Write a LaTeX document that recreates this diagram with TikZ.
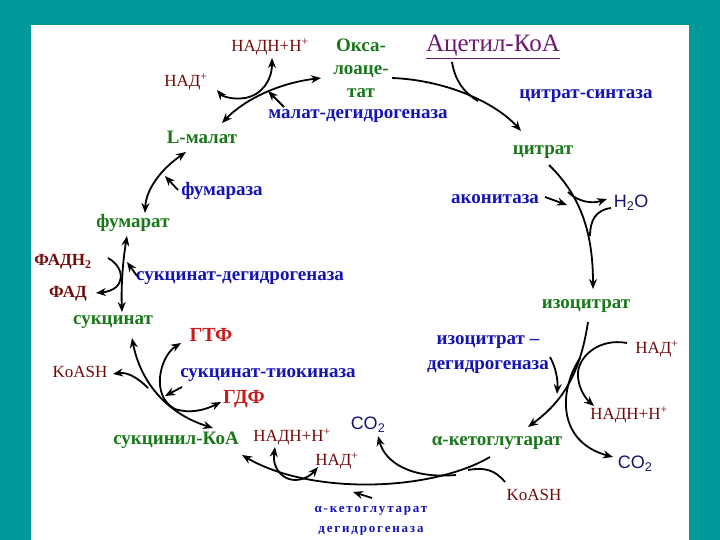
\documentclass[tikz,border=0pt]{standalone}
\usepackage{fontspec}
\setmainfont{Liberation Serif}
\newfontfamily\gasfont{Liberation Sans}
\newfontfamily\spacedfont[LetterSpace=14]{Liberation Serif}
\usetikzlibrary{arrows.meta}
\definecolor{frameteal}{RGB}{0,152,152}
\definecolor{subgreen}{RGB}{25,120,25}
\definecolor{enzblue}{RGB}{20,20,180}
\definecolor{cofred}{RGB}{115,10,10}
\definecolor{ntpred}{RGB}{205,25,25}
\definecolor{acpurple}{RGB}{110,25,110}
\definecolor{gasnavy}{RGB}{20,20,110}

\begin{document}
\begin{tikzpicture}[x=1pt, y=-1pt,
  subst/.style={inner sep=0pt, text=subgreen, font=\bfseries\fontsize{19}{23}\selectfont},
  enzyme/.style={inner sep=0pt, text=enzblue, font=\bfseries\fontsize{19}{25}\selectfont},
  cofac/.style={inner sep=0pt, text=cofred, font=\fontsize{17}{19}\selectfont},
  ntp/.style={inner sep=0pt, text=ntpred, font=\bfseries\fontsize{20}{22}\selectfont},
  gas/.style={inner sep=0pt, text=gasnavy, font=\gasfont\fontsize{18}{20}\selectfont},
  rxn/.style={line width=1.8pt, -{Stealth[length=10pt,width=8pt]}},
  rxnboth/.style={line width=1.8pt, {Stealth[length=10pt,width=8pt]}-{Stealth[length=10pt,width=8pt]}},
  side/.style={line width=1.8pt}]

  % рамка
  \useasboundingbox (0,0) rectangle (720,540);
  \fill[frameteal] (0,0) rectangle (720,540);
  \fill[white] (31,25) rectangle (689,540);

  % вещества цикла
  \node[subst, align=center] (oxa) at (361,68) {Окса-\\лоаце-\\тат};
  \node[subst] (cit) at (543,152) {цитрат};
  \node[subst] (icit) at (586,306) {изоцитрат};
  \node[subst] (akg) at (497,443) {α-кетоглутарат};
  \node[subst] (sca) at (176,440) {сукцинил-КоА};
  \node[subst] (suc) at (113,322) {сукцинат};
  \node[subst] (fma) at (133,223) {фумарат};
  \node[subst] (mal) at (202,137) {L-малат};
  \node[inner sep=0pt, text=acpurple, font=\fontsize{25}{27}\selectfont] (acoa) at (493,47) {\underline{Ацетил-КоА}};

  % ферменты
  \node[enzyme] (cs) at (586,96) {цитрат-синтаза};
  \node[enzyme] (aco) at (495,199) {аконитаза};
  \node[enzyme, align=center] (idh) at (488,355) {изоцитрат –\\дегидрогеназа};
  \node[inner sep=0pt, text=enzblue, align=center, font=\spacedfont\bfseries\fontsize{13}{20}\selectfont] (kgdh) at (371,521) {α-кетоглутарат\\дегидрогеназа};
  \node[enzyme] (stk) at (268,375) {сукцинат-тиокиназа};
  \node[enzyme] (sdh) at (240,278) {сукцинат-дегидрогеназа};
  \node[enzyme] (fum) at (222,191) {фумараза};
  \node[enzyme] (mdh) at (358,116) {малат-дегидрогеназа};

  % коферменты и побочные продукты
  \node[cofac] (nadhA) at (270,47) {НАДН+Н\textsuperscript{+}};
  \node[cofac] (nadA) at (186,82) {НАД\textsuperscript{+}};
  \node[gas] (h2o) at (631,203) {H\textsubscript{2}O};
  \node[cofac] (nadB) at (657,349) {НАД\textsuperscript{+}};
  \node[cofac] (nadhB) at (629,415) {НАДН+Н\textsuperscript{+}};
  \node[gas] (co2B) at (635,464) {CO\textsubscript{2}};
  \node[cofac] (koashB) at (534,495) {KoASH};
  \node[gas] (co2A) at (368,425) {CO\textsubscript{2}};
  \node[cofac] (nadhC) at (292,437) {НАДН+Н\textsuperscript{+}};
  \node[cofac] (nadC) at (337,461) {НАД\textsuperscript{+}};
  \node[ntp] (gdp) at (244,399) {ГДФ};
  \node[ntp] (gtp) at (211,335) {ГТФ};
  \node[cofac] (koashA) at (80,372) {KoASH};
  \node[cofac, font=\bfseries\fontsize{17}{19}\selectfont] (fad) at (68,294) {ФАД};
  \node[cofac, font=\bfseries\fontsize{17}{19}\selectfont] (fadh) at (63,262) {ФАДН\textsubscript{2}};

  % оксалоацетат -> цитрат
  \draw[rxn] (392,78) .. controls (445,80) and (495,102) .. (521,131);
  \draw[side] (452,62) .. controls (455,80) and (463,92) .. (478,101);

  % цитрат -> изоцитрат
  \draw[rxn] (549,165) .. controls (582,197) and (593,235) .. (593,289);
  \draw[rxn] (568,192) .. controls (578,202) and (592,204) .. (607,199);
  \draw[side] (611,208) .. controls (596,210) and (590,220) .. (590,236);
  \draw[rxn] (545,197) -- (567,205);

  % изоцитрат -> альфа-кетоглутарат
  \draw[rxn] (588,322) .. controls (580,375) and (562,402) .. (528,427);
  \draw[rxn] (627,343) .. controls (600,338) and (580,355) .. (578,372) .. controls (577,386) and (585,398) .. (594,406);
  \draw[rxn] (580,358) .. controls (558,392) and (558,442) .. (613,457);
  \draw[rxn] (550,357) .. controls (556,368) and (558,380) .. (557,394);

  % альфа-кетоглутарат -> сукцинил-КоА
  \draw[rxn] (490,457) .. controls (430,492) and (310,495) .. (242,455);
  \draw[rxn] (456,475) .. controls (410,479) and (385,462) .. (378,436);
  \draw[side] (505,482) .. controls (495,470) and (485,467) .. (468,470);
  \draw[rxnboth] (275,447) .. controls (272,470) and (284,480) .. (295,480) .. controls (305,480) and (312,474) .. (318,467);
  \draw[rxn] (372,498) -- (353,492);

  % сукцинил-КоА <-> сукцинат
  \draw[rxnboth] (132,338) .. controls (140,380) and (165,413) .. (213,428);
  \draw[rxn] (148,388) .. controls (136,376) and (126,372) .. (113,374);
  \draw[rxnboth] (181,343) .. controls (160,356) and (150,396) .. (175,409) .. controls (190,414) and (205,410) .. (221,402);
  \draw[rxn] (182,387) -- (165,396);

  % сукцинат <-> фумарат
  \draw[rxnboth] (122,312) .. controls (121,285) and (123,260) .. (127,236);
  \draw[rxn] (108,258) .. controls (126,268) and (126,290) .. (96,293);
  \draw[rxn] (137,276) -- (127,262);

  % фумарат <-> L-малат
  \draw[rxnboth] (145,213) .. controls (146,190) and (160,170) .. (186,152);
  \draw[rxn] (178,190) -- (165,176);

  % L-малат <-> оксалоацетат
  \draw[rxnboth] (222,123) .. controls (240,104) and (272,84) .. (321,78);
  \draw[rxnboth] (272,58) .. controls (272,80) and (262,95) .. (245,98) .. controls (232,100) and (222,96) .. (217,90);
  \draw[rxn] (284,107) -- (268,91);
\end{tikzpicture}
\end{document}
